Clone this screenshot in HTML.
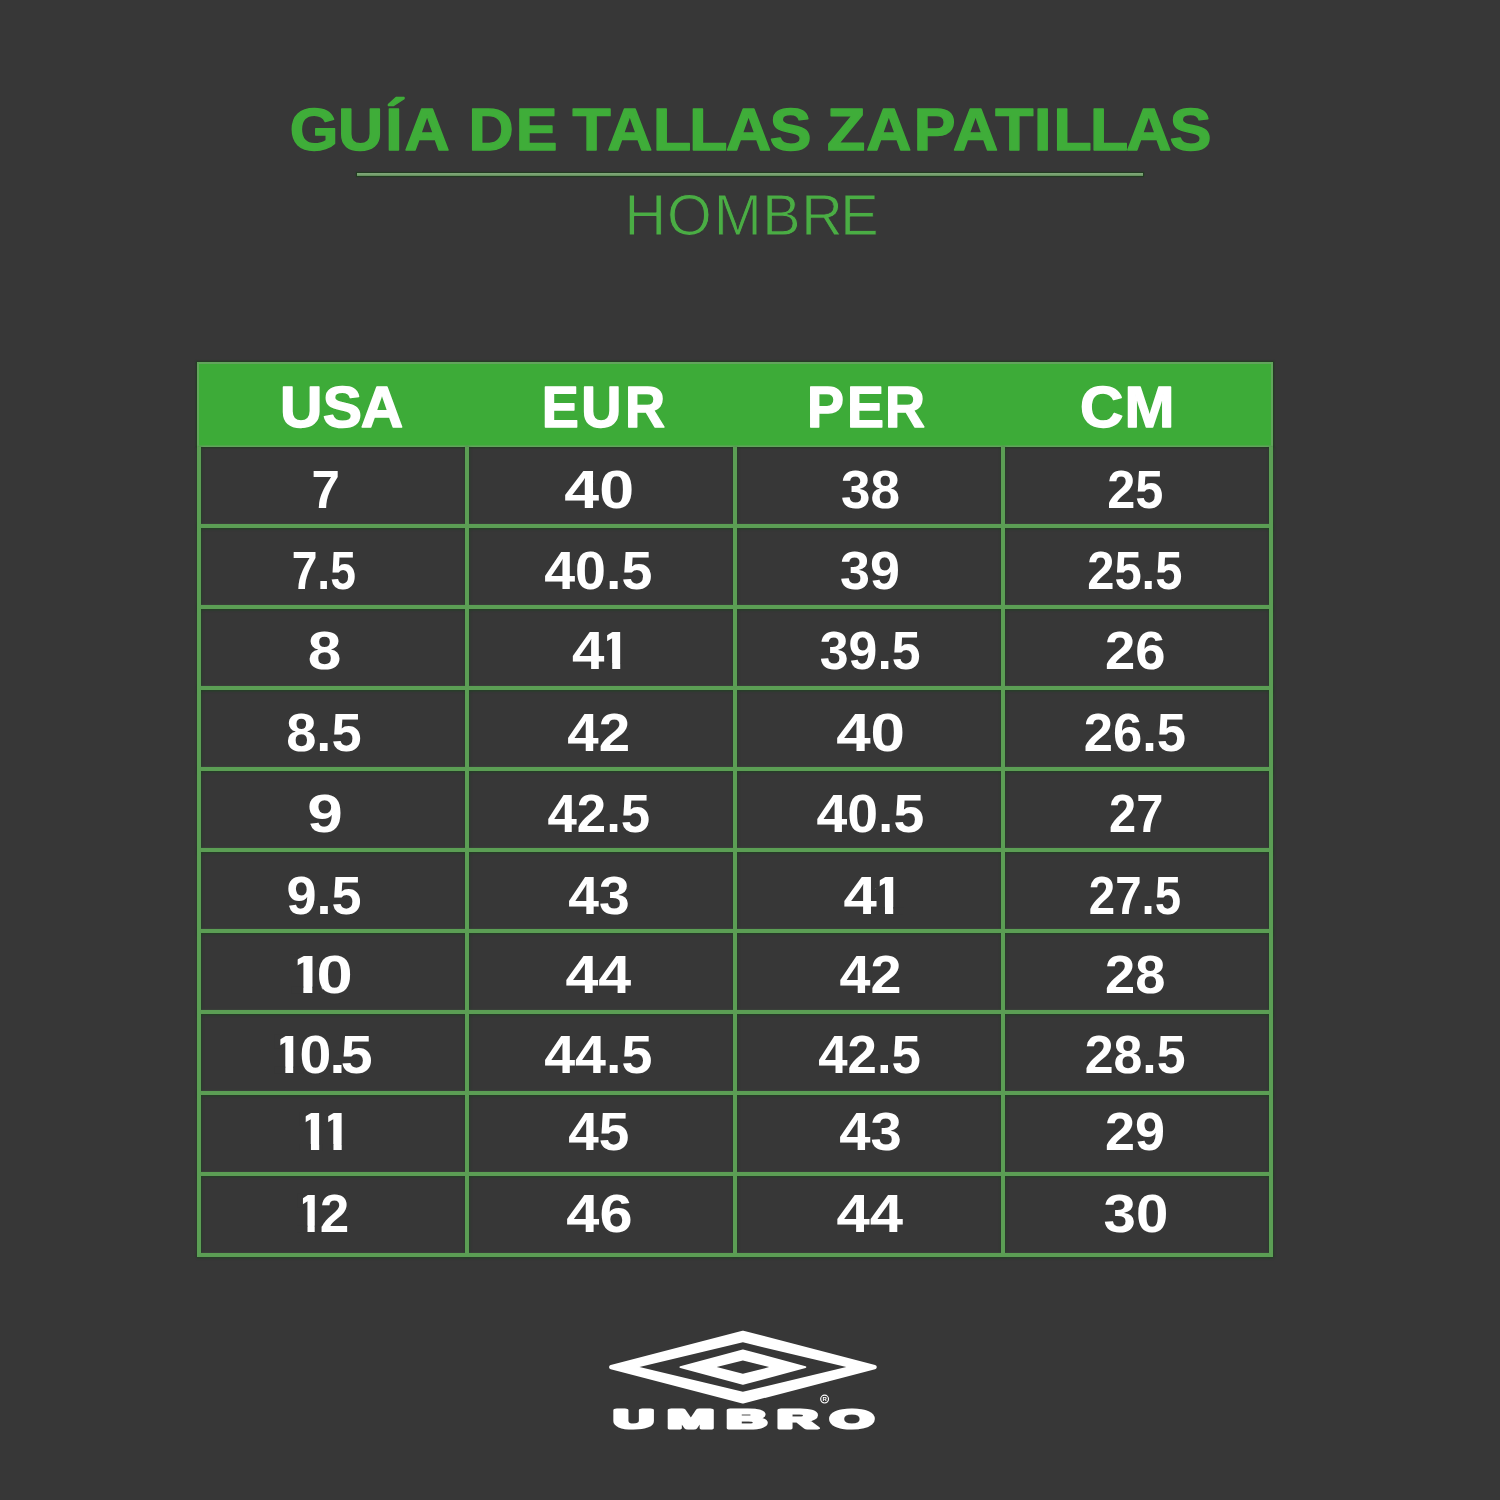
<!DOCTYPE html>
<html lang="es">
<head>
<meta charset="utf-8">
<title>Guía de tallas zapatillas - Hombre</title>
<style>
html,body{margin:0;padding:0;background:#373737;}
#page{position:relative;width:1500px;height:1500px;overflow:hidden;background:#373737;font-family:'Liberation Sans', Arial, sans-serif;}
.rule{position:absolute;left:357px;top:173px;width:786px;height:3px;background:linear-gradient(#82a97b,#76a06e 55%,#5e8c57);box-shadow:0 0 1px 0.6px rgba(28,62,28,0.75);}
.thead{position:absolute;left:197px;top:362px;width:1076px;height:85px;background:#3dab38;box-shadow:inset 2px 2px 0 #62a45c, inset -2px -1.5px 0 #62a45c, 0 0 1.5px 0.8px rgba(24,62,24,0.7);}
.vl{position:absolute;top:447px;width:4px;height:810px;background:#5b9e54;}
.hl{position:absolute;left:197px;width:1076px;height:4px;background:#5b9e54;}
.grid{position:absolute;left:0;top:0;}
.grid.sh .hl{box-shadow:0 1.5px 1.5px rgba(28,68,32,0.6), 0 -1px 1px rgba(70,85,70,0.35);}
.grid.sh .vl{box-shadow:1.2px 0 1.5px rgba(28,68,32,0.5), -1px 0 1.2px rgba(28,68,32,0.35);}
svg.ov{position:absolute;left:0;top:0;width:1500px;height:1500px;will-change:transform;}
svg text{font-family:'Liberation Sans', Arial, sans-serif;}
</style>
</head>
<body>
<div id="page">
<div class="rule"></div>
<div class="thead"></div>
<div class="grid sh"><div class="vl" style="left:197px"></div><div class="vl" style="left:465px"></div><div class="vl" style="left:733px"></div><div class="vl" style="left:1001px"></div><div class="vl" style="left:1269px"></div><div class="hl" style="top:524px"></div><div class="hl" style="top:605px"></div><div class="hl" style="top:686px"></div><div class="hl" style="top:767px"></div><div class="hl" style="top:848px"></div><div class="hl" style="top:929px"></div><div class="hl" style="top:1010px"></div><div class="hl" style="top:1091px"></div><div class="hl" style="top:1172px"></div><div class="hl" style="top:1253px"></div></div><div class="grid "><div class="vl" style="left:197px"></div><div class="vl" style="left:465px"></div><div class="vl" style="left:733px"></div><div class="vl" style="left:1001px"></div><div class="vl" style="left:1269px"></div><div class="hl" style="top:524px"></div><div class="hl" style="top:605px"></div><div class="hl" style="top:686px"></div><div class="hl" style="top:767px"></div><div class="hl" style="top:848px"></div><div class="hl" style="top:929px"></div><div class="hl" style="top:1010px"></div><div class="hl" style="top:1091px"></div><div class="hl" style="top:1172px"></div><div class="hl" style="top:1253px"></div></div>
<svg class="ov" width="1500" height="1500" viewBox="0 0 1500 1500">
<text transform="translate(0 149.70) scale(1.0440 1)" x="277.58 323.86 369.03 387.38 397.38 448.70 494.04 504.04 548.31 581.72 625.41 660.27 695.42 737.23 747.23 792.26 829.86 875.26 912.81 953.39 990.34 1009.03 1044.04 1078.75 1120.52" font-weight="700" font-size="59.885" fill="#3fad39" stroke="#3fad39" stroke-width="1.4" stroke-linejoin="round">GUÍA DE TALLAS ZAPATILLAS</text>
<text transform="translate(0 234.75) scale(1.0100 1)" x="618.34 660.39 706.68 754.74 793.28 831.93" font-weight="400" font-size="56.978" fill="#4aad44" stroke="#373737" stroke-width="0.9" stroke-linejoin="round">HOMBRE</text>
<text transform="translate(0 426.60) scale(1.0370 1)" x="270.05 311.27 347.84" font-weight="700" font-size="56.687" fill="#ffffff" stroke="#ffffff" stroke-width="1.4" stroke-linejoin="round">USA</text>
<text transform="translate(0 426.60) scale(0.9801 1)" x="552.73 593.10 637.61" font-weight="700" font-size="56.687" fill="#ffffff" stroke="#ffffff" stroke-width="1.4" stroke-linejoin="round">EUR</text>
<text transform="translate(0 426.60) scale(0.9769 1)" x="826.20 867.03 905.99" font-weight="700" font-size="56.687" fill="#ffffff" stroke="#ffffff" stroke-width="1.4" stroke-linejoin="round">PER</text>
<text transform="translate(0 426.60) scale(1.0588 1)" x="1019.98 1061.99" font-weight="700" font-size="56.687" fill="#ffffff" stroke="#ffffff" stroke-width="1.4" stroke-linejoin="round">CM</text>
<text transform="translate(311.45 508.40) scale(0.9361 1)" font-weight="700" font-size="54.507" fill="#ffffff">7</text>
<text transform="translate(291.65 589.40) scale(0.8480 1)" font-weight="700" font-size="54.507" fill="#ffffff">7.5</text>
<text transform="translate(307.79 669.30) scale(1.1069 1)" font-weight="700" font-size="54.507" fill="#ffffff">8</text>
<text transform="translate(286.21 751.10) scale(0.9944 1)" font-weight="700" font-size="54.507" fill="#ffffff">8.5</text>
<text transform="translate(307.15 831.60) scale(1.1731 1)" font-weight="700" font-size="54.507" fill="#ffffff">9</text>
<text transform="translate(286.42 913.50) scale(0.9917 1)" font-weight="700" font-size="54.507" fill="#ffffff">9.5</text>
<text transform="translate(0 993.00) scale(1.1964 1)" x="240.83 264.55" font-weight="700" font-size="54.507" fill="#ffffff">10</text>
<text transform="translate(0 1073.00) scale(1.0501 1)" x="259.01 285.14 313.76 324.45" font-weight="700" font-size="54.507" fill="#ffffff">10.5</text>
<text transform="translate(0 1150.30) scale(1.1051 1)" x="268.64 289.00" font-weight="700" font-size="54.507" fill="#ffffff">11</text>
<text transform="translate(0 1232.00) scale(0.9631 1)" x="306.57 332.37" font-weight="700" font-size="54.507" fill="#ffffff">12</text>
<text transform="translate(564.25 508.40) scale(1.1509 1)" font-weight="700" font-size="54.507" fill="#ffffff">40</text>
<text transform="translate(544.18 589.40) scale(1.0195 1)" font-weight="700" font-size="54.507" fill="#ffffff">40.5</text>
<text transform="translate(0 669.30) scale(1.0700 1)" x="534.65 559.40" font-weight="700" font-size="54.507" fill="#ffffff">41</text>
<text transform="translate(567.36 751.10) scale(1.0359 1)" font-weight="700" font-size="54.507" fill="#ffffff">42</text>
<text transform="translate(547.43 831.60) scale(0.9684 1)" font-weight="700" font-size="54.507" fill="#ffffff">42.5</text>
<text transform="translate(568.19 913.50) scale(1.0139 1)" font-weight="700" font-size="54.507" fill="#ffffff">43</text>
<text transform="translate(565.42 993.00) scale(1.0847 1)" font-weight="700" font-size="54.507" fill="#ffffff">44</text>
<text transform="translate(544.18 1073.00) scale(1.0195 1)" font-weight="700" font-size="54.507" fill="#ffffff">44.5</text>
<text transform="translate(568.19 1150.30) scale(1.0069 1)" font-weight="700" font-size="54.507" fill="#ffffff">45</text>
<text transform="translate(566.31 1232.00) scale(1.0919 1)" font-weight="700" font-size="54.507" fill="#ffffff">46</text>
<text transform="translate(841.09 508.40) scale(0.9735 1)" font-weight="700" font-size="54.507" fill="#ffffff">38</text>
<text transform="translate(839.97 589.40) scale(0.9893 1)" font-weight="700" font-size="54.507" fill="#ffffff">39</text>
<text transform="translate(819.82 669.30) scale(0.9503 1)" font-weight="700" font-size="54.507" fill="#ffffff">39.5</text>
<text transform="translate(836.16 751.10) scale(1.1351 1)" font-weight="700" font-size="54.507" fill="#ffffff">40</text>
<text transform="translate(816.48 831.60) scale(1.0157 1)" font-weight="700" font-size="54.507" fill="#ffffff">40.5</text>
<text transform="translate(0 913.50) scale(1.0977 1)" x="768.39 793.49" font-weight="700" font-size="54.507" fill="#ffffff">41</text>
<text transform="translate(839.48 993.00) scale(1.0219 1)" font-weight="700" font-size="54.507" fill="#ffffff">42</text>
<text transform="translate(818.23 1073.00) scale(0.9684 1)" font-weight="700" font-size="54.507" fill="#ffffff">42.5</text>
<text transform="translate(839.17 1150.30) scale(1.0312 1)" font-weight="700" font-size="54.507" fill="#ffffff">43</text>
<text transform="translate(836.40 1232.00) scale(1.0983 1)" font-weight="700" font-size="54.507" fill="#ffffff">44</text>
<text transform="translate(1107.15 508.40) scale(0.9263 1)" font-weight="700" font-size="54.507" fill="#ffffff">25</text>
<text transform="translate(1087.21 589.40) scale(0.8969 1)" font-weight="700" font-size="54.507" fill="#ffffff">25.5</text>
<text transform="translate(1104.90 669.30) scale(0.9981 1)" font-weight="700" font-size="54.507" fill="#ffffff">26</text>
<text transform="translate(1083.77 751.10) scale(0.9632 1)" font-weight="700" font-size="54.507" fill="#ffffff">26.5</text>
<text transform="translate(1109.11 831.60) scale(0.8946 1)" font-weight="700" font-size="54.507" fill="#ffffff">27</text>
<text transform="translate(1088.86 913.50) scale(0.8696 1)" font-weight="700" font-size="54.507" fill="#ffffff">27.5</text>
<text transform="translate(1105.01 993.00) scale(0.9952 1)" font-weight="700" font-size="54.507" fill="#ffffff">28</text>
<text transform="translate(1084.70 1073.00) scale(0.9515 1)" font-weight="700" font-size="54.507" fill="#ffffff">28.5</text>
<text transform="translate(1104.92 1150.30) scale(0.9901 1)" font-weight="700" font-size="54.507" fill="#ffffff">29</text>
<text transform="translate(1103.56 1232.00) scale(1.0679 1)" font-weight="700" font-size="54.507" fill="#ffffff">30</text>
<g class="mask" fill="#373737"><polygon points="303.35,986.64 291.24,986.64 291.24,986.89 291.24,987.14 291.24,987.39 291.24,987.64 291.24,987.89 291.24,988.14 291.24,988.39 291.24,988.64 291.24,988.89 291.24,989.14 291.24,989.39 291.24,989.64 291.24,989.89 291.24,990.14 291.24,990.39 291.24,990.64 291.24,990.89 291.24,991.14 291.24,991.39 291.24,991.64 291.24,991.89 291.24,992.14 291.24,992.39 291.24,992.64 291.24,992.89 291.24,993.14 291.24,993.39 291.24,993.64 303.35,993.80"/><polygon points="312.30,986.64 321.02,986.64 321.14,986.89 321.26,987.14 321.38,987.39 321.53,987.64 321.70,987.89 321.87,988.14 322.04,988.39 322.21,988.64 322.38,988.89 322.55,989.14 322.76,989.39 323.00,989.64 323.24,989.89 323.47,990.14 323.58,990.39 323.58,990.64 323.58,990.89 323.58,991.14 323.58,991.39 323.58,991.64 323.58,991.89 323.58,992.14 323.58,992.39 323.58,992.64 323.58,992.89 323.58,993.14 323.58,993.39 323.58,993.64 312.30,993.80"/><polygon points="297.68,954.67 290.95,954.67 290.95,954.92 290.95,955.17 290.95,955.42 290.95,955.67 290.95,955.92 290.95,956.17 290.95,956.42 290.95,956.67 290.95,956.92 290.95,957.17 290.95,957.42 290.95,957.67 290.95,957.92 290.95,958.17 290.95,958.42 290.95,958.67 290.95,958.92 290.95,959.17 290.95,959.42 290.95,959.67 290.95,959.92 290.95,960.17 290.95,960.42 290.95,960.67 290.95,960.92 290.95,961.17 290.95,961.42 290.95,961.67 290.95,961.92 290.95,962.17 290.95,962.42 290.95,962.67 290.95,962.92 290.95,963.17 290.95,963.42 290.95,963.67 290.95,963.92 290.95,964.17 290.95,964.42 290.95,964.67 290.95,964.92 290.95,965.17 290.95,965.42 290.95,965.67 290.95,965.92 290.95,966.17 290.95,966.42 290.95,966.67 290.95,966.92 290.95,967.17 290.95,967.42 290.95,967.67 290.95,967.92 290.95,968.17 297.68,968.25"/><polygon points="285.35,1066.64 274.59,1066.64 274.59,1066.89 274.59,1067.14 274.59,1067.39 274.59,1067.64 274.59,1067.89 274.59,1068.14 274.59,1068.39 274.59,1068.64 274.59,1068.89 274.59,1069.14 274.59,1069.39 274.59,1069.64 274.59,1069.89 274.59,1070.14 274.59,1070.39 274.59,1070.64 274.59,1070.89 274.59,1071.14 274.59,1071.39 274.59,1071.64 274.59,1071.89 274.59,1072.14 274.59,1072.39 274.59,1072.64 274.59,1072.89 274.59,1073.14 274.59,1073.39 274.59,1073.64 285.35,1073.80"/><polygon points="293.20,1066.64 303.23,1066.64 303.23,1066.89 303.23,1067.14 303.23,1067.39 303.23,1067.64 303.23,1067.89 303.23,1068.14 303.23,1068.39 303.23,1068.64 303.23,1068.89 303.23,1069.14 303.23,1069.39 303.23,1069.64 303.23,1069.89 303.23,1070.14 303.23,1070.39 303.23,1070.64 303.23,1070.89 303.23,1071.14 303.23,1071.39 303.23,1071.64 303.23,1071.89 303.23,1072.14 303.23,1072.39 303.23,1072.64 303.23,1072.89 303.23,1073.14 303.23,1073.39 303.23,1073.64 293.20,1073.80"/><polygon points="280.37,1034.67 274.34,1034.67 274.34,1034.92 274.34,1035.17 274.34,1035.42 274.34,1035.67 274.34,1035.92 274.34,1036.17 274.34,1036.42 274.34,1036.67 274.34,1036.92 274.34,1037.17 274.34,1037.42 274.34,1037.67 274.34,1037.92 274.34,1038.17 274.34,1038.42 274.34,1038.67 274.34,1038.92 274.34,1039.17 274.34,1039.42 274.34,1039.67 274.34,1039.92 274.34,1040.17 274.34,1040.42 274.34,1040.67 274.34,1040.92 274.34,1041.17 274.34,1041.42 274.34,1041.67 274.34,1041.92 274.34,1042.17 274.34,1042.42 274.34,1042.67 274.34,1042.92 274.34,1043.17 274.34,1043.42 274.34,1043.67 274.34,1043.92 274.34,1044.17 274.34,1044.42 274.34,1044.67 274.34,1044.92 274.34,1045.17 274.34,1045.42 274.34,1045.67 274.34,1045.92 274.34,1046.17 274.34,1046.42 274.34,1046.67 274.34,1046.92 274.34,1047.17 274.34,1047.42 274.34,1047.67 274.34,1047.92 274.34,1048.17 280.37,1048.25"/><polygon points="310.94,1143.94 299.67,1143.94 299.67,1144.19 299.67,1144.44 299.67,1144.69 299.67,1144.94 299.67,1145.19 299.67,1145.44 299.67,1145.69 299.67,1145.94 299.67,1146.19 299.67,1146.44 299.67,1146.69 299.67,1146.94 299.67,1147.19 299.67,1147.44 299.67,1147.69 299.67,1147.94 299.67,1148.19 299.67,1148.44 299.67,1148.69 299.67,1148.94 299.67,1149.19 299.67,1149.44 299.67,1149.69 299.67,1149.94 299.67,1150.19 299.67,1150.44 299.67,1150.69 299.67,1150.94 310.94,1151.10"/><polygon points="319.20,1143.94 329.70,1143.94 329.70,1144.19 329.70,1144.44 329.70,1144.69 329.70,1144.94 329.70,1145.19 329.70,1145.44 329.70,1145.69 329.70,1145.94 329.70,1146.19 329.70,1146.44 329.70,1146.69 329.70,1146.94 329.70,1147.19 329.70,1147.44 329.70,1147.69 329.70,1147.94 329.70,1148.19 329.70,1148.44 329.70,1148.69 329.70,1148.94 329.70,1149.19 329.70,1149.44 329.70,1149.69 329.70,1149.94 329.70,1150.19 329.70,1150.44 329.70,1150.69 329.70,1150.94 319.20,1151.10"/><polygon points="305.70,1111.97 299.41,1111.97 299.41,1112.22 299.41,1112.47 299.41,1112.72 299.41,1112.97 299.41,1113.22 299.41,1113.47 299.41,1113.72 299.41,1113.97 299.41,1114.22 299.41,1114.47 299.41,1114.72 299.41,1114.97 299.41,1115.22 299.41,1115.47 299.41,1115.72 299.41,1115.97 299.41,1116.22 299.41,1116.47 299.41,1116.72 299.41,1116.97 299.41,1117.22 299.41,1117.47 299.41,1117.72 299.41,1117.97 299.41,1118.22 299.41,1118.47 299.41,1118.72 299.41,1118.97 299.41,1119.22 299.41,1119.47 299.41,1119.72 299.41,1119.97 299.41,1120.22 299.41,1120.47 299.41,1120.72 299.41,1120.97 299.41,1121.22 299.41,1121.47 299.41,1121.72 299.41,1121.97 299.41,1122.22 299.41,1122.47 299.41,1122.72 299.41,1122.97 299.41,1123.22 299.41,1123.47 299.41,1123.72 299.41,1123.97 299.41,1124.22 299.41,1124.47 299.41,1124.72 299.41,1124.97 299.41,1125.22 299.41,1125.47 305.70,1125.55"/><polygon points="333.44,1143.94 322.17,1143.94 322.17,1144.19 322.17,1144.44 322.17,1144.69 322.17,1144.94 322.17,1145.19 322.17,1145.44 322.17,1145.69 322.17,1145.94 322.17,1146.19 322.17,1146.44 322.17,1146.69 322.17,1146.94 322.17,1147.19 322.17,1147.44 322.17,1147.69 322.17,1147.94 322.17,1148.19 322.17,1148.44 322.17,1148.69 322.17,1148.94 322.17,1149.19 322.17,1149.44 322.17,1149.69 322.17,1149.94 322.17,1150.19 322.17,1150.44 322.17,1150.69 322.17,1150.94 333.44,1151.10"/><polygon points="341.70,1143.94 352.20,1143.94 352.20,1144.19 352.20,1144.44 352.20,1144.69 352.20,1144.94 352.20,1145.19 352.20,1145.44 352.20,1145.69 352.20,1145.94 352.20,1146.19 352.20,1146.44 352.20,1146.69 352.20,1146.94 352.20,1147.19 352.20,1147.44 352.20,1147.69 352.20,1147.94 352.20,1148.19 352.20,1148.44 352.20,1148.69 352.20,1148.94 352.20,1149.19 352.20,1149.44 352.20,1149.69 352.20,1149.94 352.20,1150.19 352.20,1150.44 352.20,1150.69 352.20,1150.94 341.70,1151.10"/><polygon points="328.20,1111.97 321.91,1111.97 321.91,1112.22 321.91,1112.47 321.91,1112.72 321.91,1112.97 321.91,1113.22 321.91,1113.47 321.91,1113.72 321.91,1113.97 321.91,1114.22 321.91,1114.47 321.91,1114.72 321.91,1114.97 321.91,1115.22 321.91,1115.47 321.91,1115.72 321.91,1115.97 321.91,1116.22 321.91,1116.47 321.91,1116.72 321.91,1116.97 321.91,1117.22 321.91,1117.47 321.91,1117.72 321.91,1117.97 321.91,1118.22 321.91,1118.47 321.91,1118.72 321.91,1118.97 321.91,1119.22 321.91,1119.47 321.91,1119.72 321.91,1119.97 321.91,1120.22 321.91,1120.47 321.91,1120.72 321.91,1120.97 321.91,1121.22 321.91,1121.47 321.91,1121.72 321.91,1121.97 321.91,1122.22 321.91,1122.47 321.91,1122.72 321.91,1122.97 321.91,1123.22 321.91,1123.47 321.91,1123.72 321.91,1123.97 321.91,1124.22 321.91,1124.47 321.91,1124.72 321.91,1124.97 321.91,1125.22 321.91,1125.47 328.20,1125.55"/><polygon points="307.50,1225.64 297.55,1225.64 297.55,1225.89 297.55,1226.14 297.55,1226.39 297.55,1226.64 297.55,1226.89 297.55,1227.14 297.55,1227.39 297.55,1227.64 297.55,1227.89 297.55,1228.14 297.55,1228.39 297.55,1228.64 297.55,1228.89 297.55,1229.14 297.55,1229.39 297.55,1229.64 297.55,1229.89 297.55,1230.14 297.55,1230.39 297.55,1230.64 297.55,1230.89 297.55,1231.14 297.55,1231.39 297.55,1231.64 297.55,1231.89 297.55,1232.14 297.55,1232.39 297.55,1232.64 307.50,1232.80"/><polygon points="314.70,1225.64 321.87,1225.64 321.76,1225.89 321.64,1226.14 321.56,1226.39 321.56,1226.64 321.56,1226.89 321.56,1227.14 321.56,1227.39 321.56,1227.64 321.56,1227.89 321.56,1228.14 321.56,1228.39 321.56,1228.64 321.56,1228.89 321.56,1229.14 321.56,1229.39 321.56,1229.64 321.56,1229.89 321.56,1230.14 321.56,1230.39 321.56,1230.64 321.56,1230.89 321.56,1231.14 321.56,1231.39 321.56,1231.64 321.56,1231.89 321.56,1232.14 321.56,1232.39 323.98,1232.64 314.70,1232.80"/><polygon points="302.94,1193.67 297.32,1193.67 297.32,1193.92 297.32,1194.17 297.32,1194.42 297.32,1194.67 297.32,1194.92 297.32,1195.17 297.32,1195.42 297.32,1195.67 297.32,1195.92 297.32,1196.17 297.32,1196.42 297.32,1196.67 297.32,1196.92 297.32,1197.17 297.32,1197.42 297.32,1197.67 297.32,1197.92 297.32,1198.17 297.32,1198.42 297.32,1198.67 297.32,1198.92 297.32,1199.17 297.32,1199.42 297.32,1199.67 297.32,1199.92 297.32,1200.17 297.32,1200.42 297.32,1200.67 297.32,1200.92 297.32,1201.17 297.32,1201.42 297.32,1201.67 297.32,1201.92 297.32,1202.17 297.32,1202.42 297.32,1202.67 297.32,1202.92 297.32,1203.17 297.32,1203.42 297.32,1203.67 297.32,1203.92 297.32,1204.17 297.32,1204.42 297.32,1204.67 297.32,1204.92 297.32,1205.17 297.32,1205.42 297.32,1205.67 297.32,1205.92 297.32,1206.17 297.32,1206.42 297.32,1206.67 297.32,1206.92 297.32,1207.17 302.94,1207.25"/><polygon points="612.20,662.94 601.26,662.94 601.26,663.19 601.26,663.44 601.26,663.69 601.26,663.94 601.26,664.19 601.26,664.44 601.26,664.69 601.26,664.94 601.26,665.19 601.26,665.44 601.26,665.69 601.26,665.94 601.26,666.19 601.26,666.44 601.26,666.69 601.26,666.94 601.26,667.19 601.26,667.44 601.26,667.69 601.26,667.94 601.26,668.19 601.26,668.44 601.26,668.69 601.26,668.94 601.26,669.19 601.26,669.44 601.26,669.69 601.26,669.94 612.20,670.10"/><polygon points="620.20,662.94 630.40,662.94 630.40,663.19 630.40,663.44 630.40,663.69 630.40,663.94 630.40,664.19 630.40,664.44 630.40,664.69 630.40,664.94 630.40,665.19 630.40,665.44 630.40,665.69 630.40,665.94 630.40,666.19 630.40,666.44 630.40,666.69 630.40,666.94 630.40,667.19 630.40,667.44 630.40,667.69 630.40,667.94 630.40,668.19 630.40,668.44 630.40,668.69 630.40,668.94 630.40,669.19 630.40,669.44 630.40,669.69 630.40,669.94 620.20,670.10"/><polygon points="607.13,630.97 601.00,630.97 601.00,631.22 601.00,631.47 601.00,631.72 601.00,631.97 601.00,632.22 601.00,632.47 601.00,632.72 601.00,632.97 601.00,633.22 601.00,633.47 601.00,633.72 601.00,633.97 601.00,634.22 601.00,634.47 601.00,634.72 601.00,634.97 601.00,635.22 601.00,635.47 601.00,635.72 601.00,635.97 601.00,636.22 601.00,636.47 601.00,636.72 601.00,636.97 601.00,637.22 601.00,637.47 601.00,637.72 601.00,637.97 601.00,638.22 601.00,638.47 601.00,638.72 601.00,638.97 601.00,639.22 601.00,639.47 601.00,639.72 601.00,639.97 601.00,640.22 601.00,640.47 601.00,640.72 601.00,640.97 601.00,641.22 601.00,641.47 601.00,641.72 601.00,641.97 601.00,642.22 601.00,642.47 601.00,642.72 601.00,642.97 601.00,643.22 601.00,643.47 601.00,643.72 601.00,643.97 601.00,644.22 601.00,644.47 607.13,644.55"/><polygon points="884.99,907.14 873.79,907.14 873.79,907.39 873.79,907.64 873.79,907.89 873.79,908.14 873.79,908.39 873.79,908.64 873.79,908.89 873.79,909.14 873.79,909.39 873.79,909.64 873.79,909.89 873.79,910.14 873.79,910.39 873.79,910.64 873.79,910.89 873.79,911.14 873.79,911.39 873.79,911.64 873.79,911.89 873.79,912.14 873.79,912.39 873.79,912.64 873.79,912.89 873.79,913.14 873.79,913.39 873.79,913.64 873.79,913.89 873.79,914.14 884.99,914.30"/><polygon points="893.20,907.14 903.64,907.14 903.64,907.39 903.64,907.64 903.64,907.89 903.64,908.14 903.64,908.39 903.64,908.64 903.64,908.89 903.64,909.14 903.64,909.39 903.64,909.64 903.64,909.89 903.64,910.14 903.64,910.39 903.64,910.64 903.64,910.89 903.64,911.14 903.64,911.39 903.64,911.64 903.64,911.89 903.64,912.14 903.64,912.39 903.64,912.64 903.64,912.89 903.64,913.14 903.64,913.39 903.64,913.64 903.64,913.89 903.64,914.14 893.20,914.30"/><polygon points="879.79,875.17 873.53,875.17 873.53,875.42 873.53,875.67 873.53,875.92 873.53,876.17 873.53,876.42 873.53,876.67 873.53,876.92 873.53,877.17 873.53,877.42 873.53,877.67 873.53,877.92 873.53,878.17 873.53,878.42 873.53,878.67 873.53,878.92 873.53,879.17 873.53,879.42 873.53,879.67 873.53,879.92 873.53,880.17 873.53,880.42 873.53,880.67 873.53,880.92 873.53,881.17 873.53,881.42 873.53,881.67 873.53,881.92 873.53,882.17 873.53,882.42 873.53,882.67 873.53,882.92 873.53,883.17 873.53,883.42 873.53,883.67 873.53,883.92 873.53,884.17 873.53,884.42 873.53,884.67 873.53,884.92 873.53,885.17 873.53,885.42 873.53,885.67 873.53,885.92 873.53,886.17 873.53,886.42 873.53,886.67 873.53,886.92 873.53,887.17 873.53,887.42 873.53,887.67 873.53,887.92 873.53,888.17 873.53,888.42 873.53,888.67 879.79,888.75"/></g>
<g class="logo">
<polygon points="611.30,1367.10 742.90,1332.85 874.50,1367.10 742.90,1401.35" fill="#ffffff" stroke="#ffffff" stroke-width="4.4" stroke-linejoin="round"/>
<polygon points="639.50,1367.10 742.90,1342.35 846.30,1367.10 742.90,1391.85" fill="#373737"/>
<polygon points="680.50,1367.10 742.90,1350.40 805.30,1367.10 742.90,1383.80" fill="#ffffff" stroke="#ffffff" stroke-width="2" stroke-linejoin="round"/>
<polygon points="716.65,1367.10 742.90,1360.50 769.15,1367.10 742.90,1373.70" fill="#373737"/>
<circle cx="824.6" cy="1399.1" r="3.9" fill="none" stroke="#ffffff" stroke-width="1.2"/>
<text x="824.6" y="1401.3" font-size="6" font-weight="700" text-anchor="middle" fill="#ffffff">R</text>
<text class="umbro" transform="translate(0 1428.4) scale(2.1648 1)" font-size="25.8" font-weight="700" fill="#fff" stroke="#fff" stroke-width="3.2" stroke-linejoin="round" x="283.44 308.37 335.56 359.10 383.47">UMBRO</text>
</g>
</svg>
</div>
</body>
</html>
